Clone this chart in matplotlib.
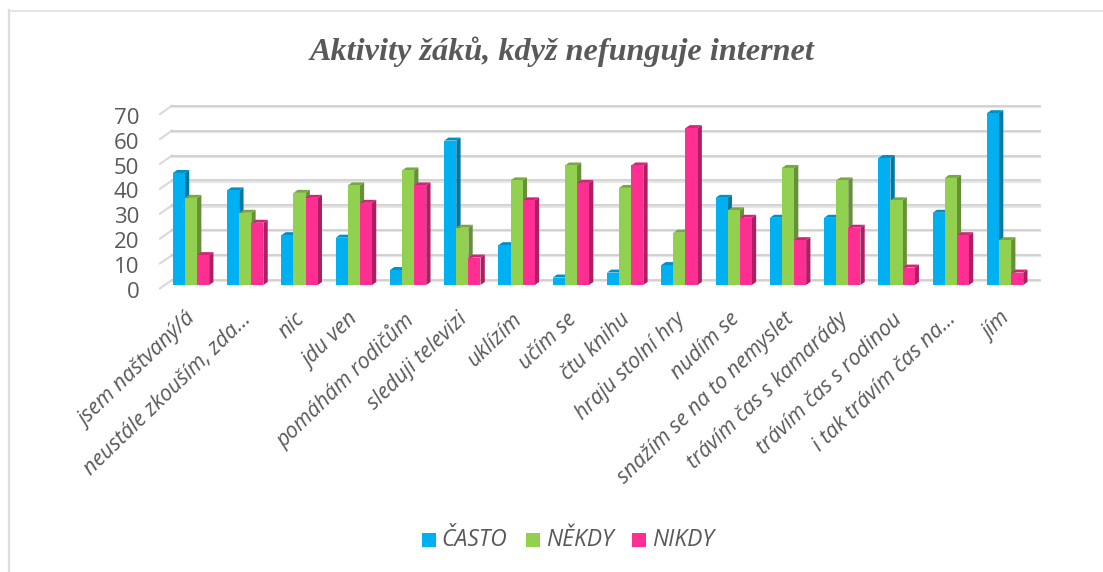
import matplotlib
matplotlib.use('Agg')
import matplotlib.pyplot as plt
from matplotlib.patches import Polygon, Rectangle
from matplotlib.lines import Line2D
from matplotlib.transforms import ScaledTranslation

categories = ['jsem naštvaný/á', 'neustále zkouším, zda...', 'nic', 'jdu ven', 'pomáhám rodičům',
              'sleduji televizi', 'uklízím', 'učím se', 'čtu knihu', 'hraju stolní hry', 'nudím se',
              'snažím se na to nemyslet', 'trávím čas s kamarády', 'trávím čas s rodinou',
              'i tak trávím čas na...', 'jím']
casto = [45, 38, 20, 19, 6, 58, 16, 3, 5, 8, 35, 27, 27, 51, 29, 69]
nekdy = [35, 29, 37, 40, 46, 23, 42, 48, 39, 21, 30, 47, 42, 34, 43, 18]
nikdy = [12, 25, 35, 33, 40, 11, 34, 41, 48, 63, 27, 18, 23, 7, 20, 5]
yticks = [0, 10, 20, 30, 40, 50, 60, 70]

W, H = 1103, 572
TEXT = '#595959'
series = [('ČASTO', casto, '#00B0F0', '#0078A4', '#0090C4'),
          ('NĚKDY', nekdy, '#92D050', '#668F38', '#78A840'),
          ('NIKDY', nikdy, '#FF2F92', '#AE1E64', '#D02678')]

plt.rcParams['font.family'] = ['Open Sans', 'DejaVu Sans']
fig = plt.figure(figsize=(W / 100, H / 100), dpi=100)

# plot area in pixels
px_left, px_right, px_base, px_top = 160, 1040, 285, 105
ax = fig.add_axes([px_left / W, 1 - px_base / H, (px_right - px_left) / W, (px_base - px_top) / H])
sx = 54.27  # px per category
sy = 2.49   # px per unit
ax.set_xlim((px_left - 191) / sx, (px_right - 191) / sx)
ax.set_ylim(0, (px_base - px_top) / sy)
for s in ax.spines.values():
    s.set_visible(False)
ax.patch.set_alpha(0)

# depth of the fake 3d, in data units
dx = 4.3 / sx
dy = 3 / sy
bw = 12.1 / sx

x0, x1 = ax.get_xlim()
gx = x0 + 12 / sx
gy = 5 / sy
for v in yticks:
    ax.plot([gx, x1], [v + gy - 1.2 / sy, v + gy - 1.2 / sy], color='#E6E6E6', lw=1.6, clip_on=False, zorder=1)
    ax.plot([gx, x1], [v + gy, v + gy], color='#CCCCCC', lw=1.2, clip_on=False, zorder=1.1)
    ax.plot([x0, gx], [v - 3.4 / sy, v + gy], color='#D9D9D9', lw=1.5, clip_on=False, zorder=1)

for k, (name, vals, col, side, top) in enumerate(series):
    for i, v in enumerate(vals):
        xc = i + (k - 1) * bw
        l, r = xc - bw / 2, xc + bw / 2
        ax.add_patch(Polygon([(r, 0), (r + dx, dy), (r + dx, v + dy), (r, v)], fc=side, ec='none', zorder=2 + k))
        ax.add_patch(Polygon([(l, v), (l + dx, v + dy), (r + dx, v + dy), (r, v)], fc=top, ec='none', zorder=2 + k))
    ax.bar([i + (k - 1) * bw for i in range(len(vals))], vals, width=bw, color=col, zorder=2.5 + k)

ax.set_yticks(yticks)
ax.set_xticks(range(len(categories)))
ax.set_xticklabels(categories, rotation=44, ha='right', va='top', rotation_mode='anchor',
                   fontsize=15.4, style='italic', color=TEXT)
ax.tick_params(axis='x', length=0, pad=15)
ax.tick_params(axis='y', length=0, pad=15, labelsize=16, labelcolor=TEXT)
# the value labels sit on the front edge of the side wall, a bit below the bars
shift = ScaledTranslation(0, -5 / 100, fig.dpi_scale_trans)
for lab in ax.get_yticklabels():
    lab.set_transform(lab.get_transform() + shift)
shift_x = ScaledTranslation(-5 / 100, -3 / 100, fig.dpi_scale_trans)
for lab in ax.get_xticklabels():
    lab.set_transform(lab.get_transform() + shift_x)

fig.text(562 / W, 1 - 51.5 / H, 'Aktivity žáků, když nefunguje internet', ha='center', va='center',
         family='Liberation Serif', style='italic', weight='bold', fontsize=23.2, color=TEXT)

# legend
for (name, vals, col, side, top), bx, tx in zip(series, [422, 526, 632], [441, 546, 652]):
    fig.patches.append(Rectangle((bx / W, 1 - 547 / H), 14 / W, 14 / H, transform=fig.transFigure, fc=col, ec='none'))
    fig.text(tx / W, 1 - 540 / H, name, ha='left', va='center', style='italic', fontsize=16.5, color=TEXT)

# chart frame
fig.add_artist(Line2D([9 / W, 9 / W], [0, 1 - 10 / H], color='#DEDEDE', lw=1.7))
fig.add_artist(Line2D([9 / W, 1], [1 - 11 / H, 1 - 11 / H], color='#DEDEDE', lw=1.1))

fig.savefig('out.png', dpi=100)
